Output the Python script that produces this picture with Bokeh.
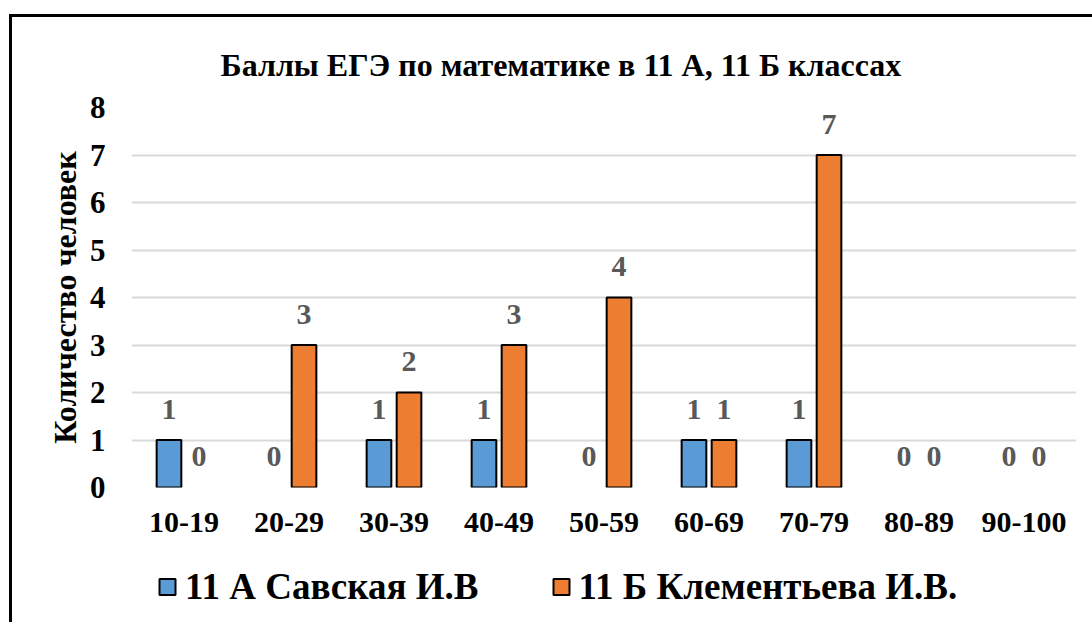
from bokeh.plotting import figure
from bokeh.models import ColumnDataSource, Legend, LegendItem
from bokeh.layouts import column
from bokeh.transform import dodge
from bokeh.core.properties import value
from bokeh.embed import file_html
from bokeh.resources import INLINE

categories = ["10-19", "20-29", "30-39", "40-49", "50-59", "60-69", "70-79", "80-89", "90-100"]
class_a = [1, 0, 1, 1, 0, 1, 1, 0, 0]
class_b = [0, 3, 2, 3, 4, 1, 7, 0, 0]
series_names = ["11 А Савская И.В", "11 Б Клементьева И.В."]
title_text = "Баллы ЕГЭ по математике  в 11 А, 11 Б классах"
y_label = "Количество человек"
y_ticks = [0, 1, 2, 3, 4, 5, 6, 7, 8]

FONT = "Liberation Serif"
BLUE = "#5B9BD5"
ORANGE = "#ED7D31"
OFF = 0.143
BW = 0.235

src = ColumnDataSource(dict(
    cat=categories, a=class_a, b=class_b,
    a_txt=[str(v) for v in class_a], b_txt=[str(v) for v in class_b],
    a_la=[1.0 if v > 0 else 0.0 for v in class_a],
    b_la=[1.0 if v > 0 else 0.0 for v in class_b],
))

p = figure(x_range=categories, y_range=(0, 8), width=1080, height=533,
           output_backend="svg", toolbar_location=None,
           min_border_left=119, min_border_right=16, min_border_top=90, min_border_bottom=63)

p.title.text = title_text
p.title.text_font = FONT
p.title.text_font_size = "32px"
p.title.text_font_style = "bold"
p.title.text_color = "#000000"
p.title.align = "left"
p.title.offset = 89
p.title.standoff = 50

p.vbar(x=dodge("cat", -OFF, range=p.x_range), top="a", width=BW, source=src,
       fill_color=BLUE, line_color="#000000", line_width=2, line_alpha="a_la")
p.vbar(x=dodge("cat", OFF, range=p.x_range), top="b", width=BW, source=src,
       fill_color=ORANGE, line_color="#000000", line_width=2, line_alpha="b_la")

for xoff, ycol, tcol in ((-OFF, "a", "a_txt"), (OFF, "b", "b_txt")):
    p.text(x=dodge("cat", xoff, range=p.x_range), y=ycol, text=tcol, source=src,
           text_align="center", text_baseline="alphabetic", y_offset=-31,
           text_font=value(FONT), text_font_size="30px", text_font_style="bold",
           text_color="#595959")

p.xgrid.grid_line_color = None
p.ygrid.grid_line_color = "#D9D9D9"
p.ygrid.grid_line_width = 2
p.outline_line_color = None

for ax in (p.xaxis, p.yaxis):
    ax.axis_line_color = None
    ax.major_tick_line_color = None
    ax.minor_tick_line_color = None
    ax.major_tick_out = 0
    ax.major_tick_in = 0
    ax.minor_tick_out = 0
    ax.minor_tick_in = 0
    ax.major_label_text_font = FONT
    ax.major_label_text_font_style = "bold"
    ax.major_label_text_color = "#000000"

p.yaxis.ticker = y_ticks
p.xaxis.major_label_text_font_size = "30px"
p.xaxis.major_label_standoff = 25
p.yaxis.major_label_text_font_size = "31px"
p.yaxis.major_label_standoff = 26
p.yaxis.axis_label = y_label
p.yaxis.axis_label_text_font = FONT
p.yaxis.axis_label_text_font_size = "32px"
p.yaxis.axis_label_text_font_style = "bold"
p.yaxis.axis_label_text_color = "#000000"
p.yaxis.axis_label_standoff = 4

# legend in its own strip below the chart; its renderers share the data but are hidden
pl = figure(width=1080, height=72, x_range=categories, y_range=(0, 8),
            x_axis_type=None, y_axis_type=None,
            output_backend="svg", toolbar_location=None,
            min_border=0, min_border_left=119, min_border_right=16)
pl.xgrid.grid_line_color = None
pl.ygrid.grid_line_color = None
pl.outline_line_color = None
la = pl.vbar(x="cat", top="a", width=BW, source=src,
             fill_color=BLUE, line_color="#000000", line_width=2, visible=False)
lb = pl.vbar(x="cat", top="b", width=BW, source=src,
             fill_color=ORANGE, line_color="#000000", line_width=2, visible=False)
legend = Legend(items=[LegendItem(label=series_names[0], renderers=[la]),
                       LegendItem(label=series_names[1], renderers=[lb])],
                orientation="horizontal", location="center_left",
                label_text_font=FONT, label_text_font_size="37px", label_text_font_style="bold",
                label_text_color="#000000",
                glyph_width=20, glyph_height=20, spacing=72, label_standoff=8,
                inactive_fill_alpha=0,
                border_line_color=None, background_fill_alpha=0, padding=0, margin=26)
pl.add_layout(legend)

layout = column(p, pl, spacing=0, margin=(14, 0, 0, 9),
                styles={"border-left": "3px solid #000000", "border-top": "3px solid #000000"})

open("out.html", "w").write(file_html(layout, INLINE))
